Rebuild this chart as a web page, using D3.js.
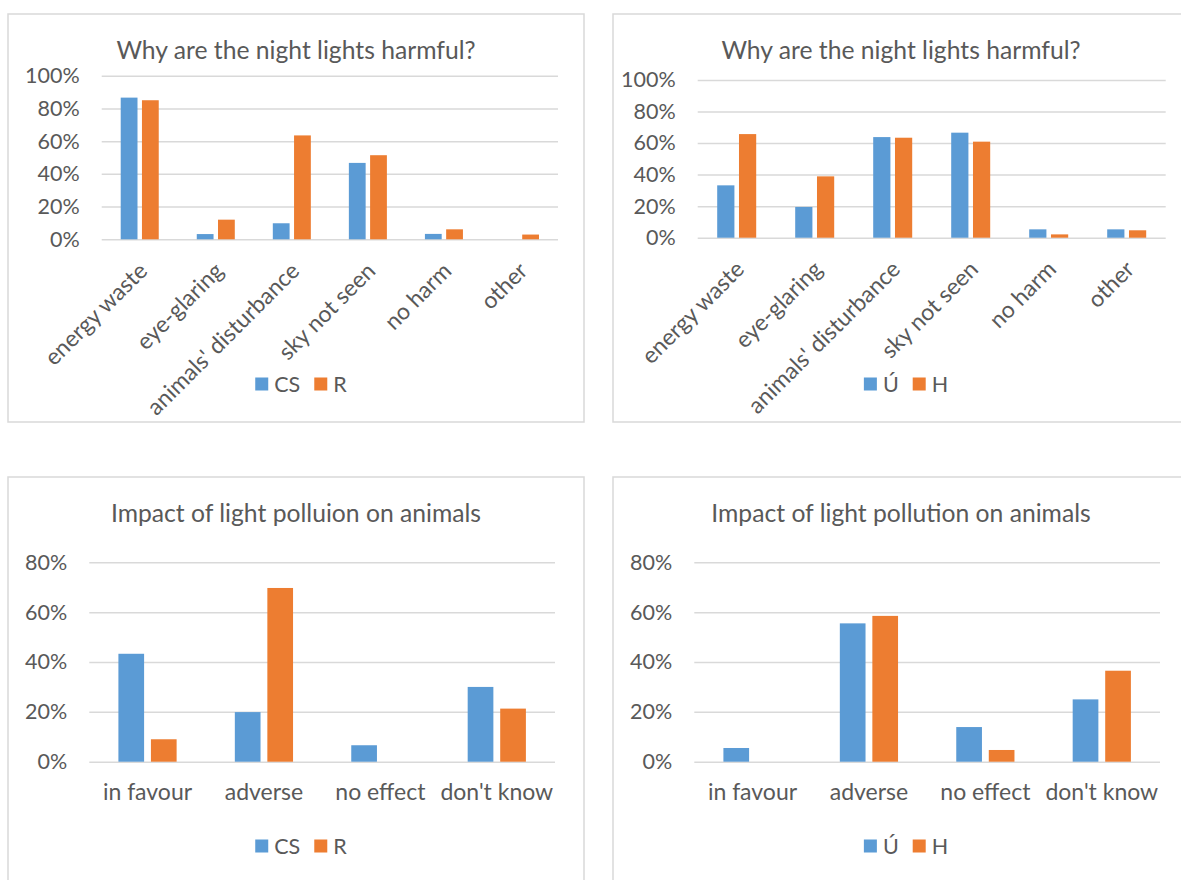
<!DOCTYPE html>
<html>
<head>
<meta charset="utf-8">
<script src="https://cdn.jsdelivr.net/npm/d3@7"></script>
<style>
  html, body { margin: 0; padding: 0; background: #fff; overflow: hidden; }
  text { font-family: Lato, "Open Sans", sans-serif; fill: #595959; }
</style>
</head>
<body>
<svg id="canvas"></svg>
<script>
// data (percent)
const harmCategories = ['energy waste', 'eye-glaring', "animals' disturbance", 'sky not seen', 'no harm', 'other'];
const harmCS = [86.6, 3.2, 9.8, 46.7, 3.3, 0];
const harmR = [85.0, 12.0, 63.5, 51.4, 6.1, 2.9];
const harmU = [33.2, 19.5, 63.8, 66.6, 5.3, 5.3];
const harmH = [65.7, 38.9, 63.4, 60.9, 2.1, 4.7];

const impactCategories = ['in favour', 'adverse', 'no effect', "don't know"];
const impactCS = [43.3, 19.9, 6.6, 30.0];
const impactR = [9.0, 69.7, 0, 21.3];
const impactU = [5.5, 55.5, 13.9, 25.0];
const impactH = [0, 58.5, 4.7, 36.5];

const harmTicks = [0, 20, 40, 60, 80, 100];
const impactTicks = [0, 20, 40, 60, 80];

const colors = ['#5b9bd5', '#ed7d31'];

const width = 1181;
const height = 880;

const svg = d3.select('#canvas')
    .attr('width', width)
    .attr('height', height);

// パネル配置
const panels = [
    {
        box: [8, 14, 576, 408], plot: [101.7, 558, 75.7, 239.3],
        title: 'Why are the night lights harmful?', titleY: 59,
        cats: harmCategories, series: [['CS', harmCS], ['R', harmR]],
        ticks: harmTicks, max: 100, rotate: true, legendY: 384
    },
    {
        box: [613, 14, 576, 408], plot: [697.7, 1165.7, 80, 237.7],
        title: 'Why are the night lights harmful?', titleY: 59,
        cats: harmCategories, series: [['Ú', harmU], ['H', harmH]],
        ticks: harmTicks, max: 100, rotate: true, legendY: 384
    },
    {
        box: [8, 477, 576, 408], plot: [89.3, 555, 562.3, 761.7],
        title: 'Impact of light polluion on animals', titleY: 521.5,
        cats: impactCategories, series: [['CS', impactCS], ['R', impactR]],
        ticks: impactTicks, max: 80, rotate: false, legendY: 846
    },
    {
        box: [613, 477, 576, 408], plot: [694.3, 1160, 562.3, 761.7],
        title: 'Impact of light pollution on animals', titleY: 521.5,
        cats: impactCategories, series: [['Ú', impactU], ['H', impactH]],
        ticks: impactTicks, max: 80, rotate: false, legendY: 846
    }
];

const drawPanel = p => {
    const [bx, by, bw, bh] = p.box;
    const [x0, x1, yTop, yBottom] = p.plot;
    const g = svg.append('g');

    g.append('rect')
        .attr('x', bx)
        .attr('y', by)
        .attr('width', bw)
        .attr('height', bh)
        .attr('fill', '#fff')
        .attr('stroke', '#d9d9d9')
        .attr('stroke-width', 1.5);

    g.append('text')
        .attr('x', bx + bw / 2)
        .attr('y', p.titleY)
        .attr('text-anchor', 'middle')
        .style('font-size', '24.7px')
        .text(p.title);

    const y = d3.scaleLinear()
        .domain([0, p.max])
        .range([yBottom, yTop]);

    const x = d3.scaleBand()
        .domain(p.cats)
        .range([x0, x1])
        .paddingInner(0.5)
        .paddingOuter(0.25);

    const xs = d3.scaleBand()
        .domain(p.series.map(s => s[0]))
        .range([0, x.bandwidth()])
        .paddingInner(0.21);

    // グリッド
    const gridAxis = d3.axisLeft(y)
        .tickValues(p.ticks)
        .tickSize(-(x1 - x0))
        .tickFormat(d => d + '%')
        .tickPadding(22);
    const gy = g.append('g')
        .attr('transform', 'translate(' + x0 + ',0)')
        .call(gridAxis);
    gy.select('.domain').remove();
    gy.selectAll('.tick line')
        .attr('stroke', '#d9d9d9')
        .attr('stroke-width', 1.5);
    gy.selectAll('.tick text')
        .attr('fill', '#595959')
        .style('font-family', 'Lato, sans-serif')
        .style('font-size', '21.5px');

    // バー
    p.series.forEach(([name, values], i) => {
        g.append('g')
            .selectAll('rect')
            .data(values.map((v, j) => ({ cat: p.cats[j], v: v })))
            .join('rect')
            .attr('x', d => x(d.cat) + xs(name))
            .attr('y', d => y(d.v))
            .attr('width', xs.bandwidth())
            .attr('height', d => y(0) - y(d.v))
            .attr('fill', colors[i]);
    });

    // カテゴリラベル
    const labels = g.append('g')
        .selectAll('text')
        .data(p.cats)
        .join('text')
        .style('font-size', '23px')
        .text(d => d);
    if (p.rotate) {
        labels.attr('text-anchor', 'end')
            .attr('transform', d => 'translate(' + (x(d) + x.bandwidth() / 2 + 9) + ',' + (yBottom + 33) + ') rotate(-45)');
    } else {
        labels.attr('text-anchor', 'middle')
            .attr('x', d => x(d) + x.bandwidth() / 2)
            .attr('y', yBottom + 38);
    }

    // 凡例
    const legend = g.append('g');
    let cursor = 0;
    p.series.forEach(([name], i) => {
        legend.append('rect')
            .attr('x', cursor)
            .attr('y', -6.5)
            .attr('width', 13)
            .attr('height', 13)
            .attr('fill', colors[i]);
        const t = legend.append('text')
            .attr('x', cursor + 19)
            .attr('y', 0)
            .attr('dy', '0.36em')
            .style('font-size', '21.5px')
            .text(name);
        cursor += 19 + t.node().getComputedTextLength() + 14;
    });
    const legendWidth = cursor - 14;
    legend.attr('transform', 'translate(' + (bx + bw / 2 - legendWidth / 2 + 5) + ',' + p.legendY + ')');
};

panels.forEach(drawPanel);
</script>
</body>
</html>
